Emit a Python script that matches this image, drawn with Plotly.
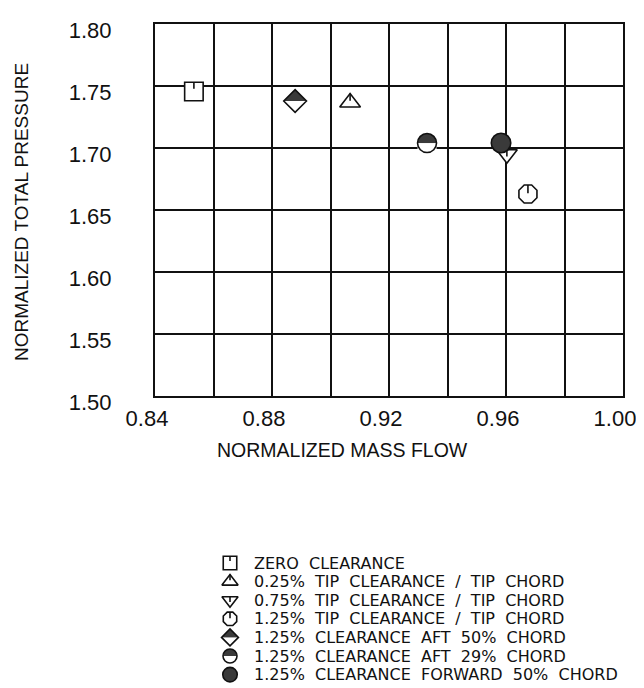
import plotly.graph_objects as go

# ---------------- data ----------------
series_labels = [
    "ZERO CLEARANCE",
    "0.25% TIP CLEARANCE / TIP CHORD",
    "0.75% TIP CLEARANCE / TIP CHORD",
    "1.25% TIP CLEARANCE / TIP CHORD",
    "1.25% CLEARANCE AFT 50% CHORD",
    "1.25% CLEARANCE AFT 29% CHORD",
    "1.25% CLEARANCE FORWARD 50% CHORD",
]
mass_flow = [0.8533, 0.9067, 0.9603, 0.9675, 0.8879, 0.9330, 0.9583]
total_pressure = [1.7456, 1.7367, 1.6950, 1.6629, 1.7379, 1.7040, 1.7040]

x_tick_values = [0.84, 0.88, 0.92, 0.96, 1.00]
x_tick_labels = ["0.84", "0.88", "0.92", "0.96", "1.00"]
y_tick_values = [1.50, 1.55, 1.60, 1.65, 1.70, 1.75, 1.80]
y_tick_labels = ["1.50", "1.55", "1.60", "1.65", "1.70", "1.75", "1.80"]

x_title = "NORMALIZED MASS FLOW"
y_title = "NORMALIZED TOTAL PRESSURE"

# ---------------- styling ----------------
symbol_kinds = ["square_tick", "tri_up_tick", "tri_down_tick", "octagon_tick",
                "diamond_half", "circle_half", "circle_full"]
plot_sizes = [18.5, 18, 18, 19.5, 17.5, 19, 19.5]
key_sizes = [13.5, 14, 14, 14.5, 13, 14, 14.5]

INK = "#111111"
DARK = "#3a3a3a"
LW = 1.6
FONT = "Liberation Sans, Arial, Helvetica, sans-serif"
LEGEND_FONT = "DejaVu Sans, Liberation Sans, sans-serif"

# the page body keeps its default 8 px margin, so the figure is 8 px smaller
W, H = 636, 680
PL, PR, PT, PB = 147, 615, 16, 388          # plot box in px (figure coords)
KEY_X, TEXT_X, ROW0, ROW_STEP = 222, 244, 555, 18.6


def marker_layer(x, y, xa, ya, symbol, size, fill="white", line_width=LW,
                 angle=0, standoff=0, clip=True):
    is_open = symbol.endswith("-open") or symbol.startswith("line")
    return go.Scatter(
        x=x, y=y, xaxis=xa, yaxis=ya, mode="markers", cliponaxis=clip,
        showlegend=False, hoverinfo="skip",
        marker=dict(
            symbol=symbol, size=size,
            color=INK if is_open else fill,
            angle=angle, standoff=standoff,
            line=dict(color=INK if line_width else "rgba(0,0,0,0)",
                      width=line_width),
        ),
    )


def tick_layer(x, y, xa, ya, top, length, clip):
    """short vertical stroke hanging down from `top` px above the point"""
    centre = top - length / 2.0
    angle, standoff = (180, centre) if centre >= 0 else (0, -centre)
    return marker_layer(x, y, xa, ya, "line-ns", length / 1.4,
                        angle=angle, standoff=standoff, clip=clip)


def add_symbol(fig, x, y, kind, s, xa, ya, clip=True):
    r = s / 2.0
    if kind == "square_tick":
        fig.add_trace(marker_layer(x, y, xa, ya, "square", s, clip=clip))
        fig.add_trace(tick_layer(x, y, xa, ya, r, 0.7 * r, clip))
    elif kind == "tri_up_tick":
        fig.add_trace(marker_layer(x, y, xa, ya, "triangle-up", s, clip=clip))
        fig.add_trace(tick_layer(x, y, xa, ya, r, 0.8 * r, clip))
    elif kind == "tri_down_tick":
        fig.add_trace(marker_layer(x, y, xa, ya, "triangle-down", s, clip=clip))
        fig.add_trace(tick_layer(x, y, xa, ya, r / 2.0, 0.75 * r, clip))
    elif kind == "octagon_tick":
        fig.add_trace(marker_layer(x, y, xa, ya, "octagon", s, clip=clip))
        fig.add_trace(tick_layer(x, y, xa, ya, 0.92 * r, 0.85 * r, clip))
    elif kind == "diamond_half":
        fig.add_trace(marker_layer(x, y, xa, ya, "diamond", s, fill=DARK,
                                   line_width=0, clip=clip))
        fig.add_trace(marker_layer(x, y, xa, ya, "square", 1.3 * s, fill="white",
                                   line_width=0, standoff=0.65 * s, clip=clip))
        fig.add_trace(marker_layer(x, y, xa, ya, "diamond-open", s, clip=clip))
    elif kind == "circle_half":
        fig.add_trace(marker_layer(x, y, xa, ya, "circle", s, fill=DARK,
                                   line_width=0, clip=clip))
        fig.add_trace(marker_layer(x, y, xa, ya, "square", s, fill="white",
                                   line_width=0, standoff=r, clip=clip))
        fig.add_trace(marker_layer(x, y, xa, ya, "circle-open", s, clip=clip))
    elif kind == "circle_full":
        fig.add_trace(marker_layer(x, y, xa, ya, "circle", s, fill=DARK, clip=clip))


fig = go.Figure()

# data points
for i, kind in enumerate(symbol_kinds):
    add_symbol(fig, [mass_flow[i]], [total_pressure[i]], kind, plot_sizes[i], "x", "y")

# legend keys (one row per series) on a hidden helper axis
rows = list(range(len(series_labels)))
for i, kind in enumerate(symbol_kinds):
    add_symbol(fig, [0], [rows[i]], kind, key_sizes[i], "x2", "y2", clip=False)

annotations = []
gap = "\u00a0\u00a0"
for i, label in enumerate(series_labels):
    annotations.append(dict(
        text=label.replace(" ", gap), xref="paper", x=TEXT_X / W, yref="y2", y=rows[i],
        xanchor="left", yanchor="middle", showarrow=False,
        font=dict(family=LEGEND_FONT, size=16, color=INK),
    ))
annotations.append(dict(
    text=x_title, xref="paper", yref="paper", x=334 / W, y=1 - 442 / H,
    xanchor="center", yanchor="middle", showarrow=False,
    font=dict(family=FONT, size=19.5, color=INK),
))
annotations.append(dict(
    text=y_title, xref="paper", yref="paper", x=13 / W, y=1 - 204 / H,
    xanchor="center", yanchor="middle", showarrow=False, textangle=-90,
    font=dict(family=FONT, size=19, color=INK),
))

axis_common = dict(
    showgrid=True, gridcolor=INK, gridwidth=1.5,
    showline=True, mirror=True, linecolor=INK, linewidth=2,
    zeroline=False, ticks="", automargin=False,
    tickfont=dict(family=FONT, size=22, color=INK),
)

fig.update_layout(
    width=W, height=H, autosize=False, template="none",
    margin=dict(l=0, r=0, t=0, b=0, pad=0),
    paper_bgcolor="white", plot_bgcolor="white",
    showlegend=False,
    xaxis=dict(
        domain=[PL / W, PR / W], range=[0.84, 1.00],
        tickmode="array", tickvals=x_tick_values, ticktext=x_tick_labels,
        minor=dict(tickmode="linear", tick0=0.84, dtick=0.02, showgrid=True,
                   gridcolor=INK, gridwidth=1.5),
        ticklabelshift=-8, ticklabelstandoff=2,
        anchor="y", **axis_common,
    ),
    yaxis=dict(
        domain=[1 - PB / H, 1 - PT / H], range=[1.50, 1.80],
        tickmode="array", tickvals=y_tick_values, ticktext=y_tick_labels,
        ticklabelshift=6, ticklabelstandoff=37,
        anchor="x", **axis_common,
    ),
    xaxis2=dict(domain=[(KEY_X - 10) / W, (KEY_X + 10) / W], range=[-1, 1],
                visible=False, anchor="y2", fixedrange=True),
    yaxis2=dict(domain=[1 - (ROW0 + 6 * ROW_STEP) / H, 1 - ROW0 / H], range=[6, 0],
                visible=False, anchor="x2", fixedrange=True),
    annotations=annotations,
)

fig.write_html("out.html")
